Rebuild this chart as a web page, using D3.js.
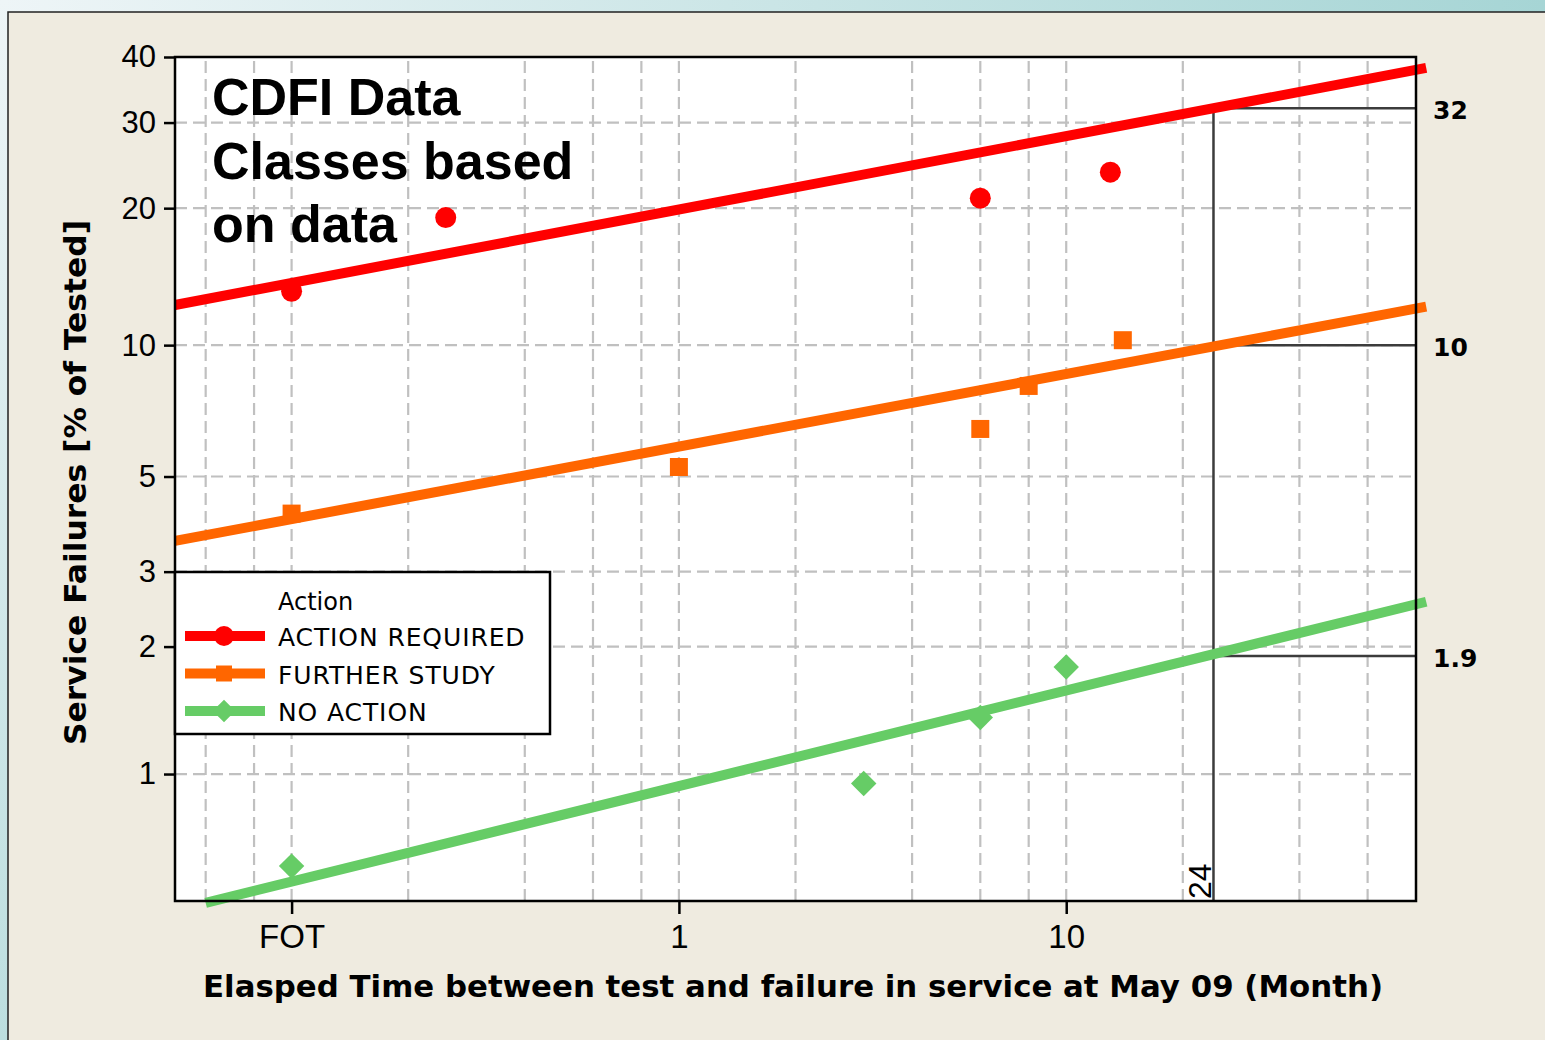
<!DOCTYPE html>
<html>
<head>
<meta charset="utf-8">
<script src="https://cdn.jsdelivr.net/npm/d3@7"></script>
<style>
  body { margin: 0; background: #efebe0; }
  svg { display: block; }
</style>
</head>
<body>
<div id="chart"></div>
<script>
// data
const timeTicks = [0.1, 1, 10];
const timeTickLabels = ["FOT", "1", "10"];
const timeGrid = [0.06, 0.08, 0.1, 0.2, 0.4, 0.6, 0.8, 1, 2, 4, 6, 8, 10, 20, 40, 60];
const pctTicks = [1, 2, 3, 5, 10, 20, 30, 40];
const pctGrid = [1, 2, 3, 5, 10, 20, 30];

const actionT = [0.1, 0.25, 6, 13];
const actionP = [13.2, 19.1, 21.0, 23.8];
const studyT = [0.1, 1, 6, 8, 14];
const studyP = [4.1, 5.26, 6.44, 8.08, 10.26];
const noneT = [0.1, 3, 6, 10];
const noneP = [0.605, 0.95, 1.36, 1.79];

// fitted lines (end points)
const actionFitT = [0.05, 85];
const actionFitP = [12.3, 38.2];
const studyFitT = [0.05, 85];
const studyFitP = [3.54, 12.2];
const noneFitT = [0.06, 85];
const noneFitP = [0.495, 2.55];

// reading at 24 months
const refT = 24;
const refP = [32, 10, 1.9];
const refLabels = ["32", "10", "1.9"];

const legendNames = ["ACTION REQUIRED", "FURTHER STUDY", "NO ACTION"];
const colors = ["#ff0000", "#ff6600", "#66cc66"];

const W = 1545, H = 1040;
const pLeft = 175, pRight = 1416, pTop = 57, pBottom = 901;

// weibull probability scale
const wb = p => Math.log(-Math.log(1 - p / 100));
const x = d3.scaleLog().domain([0.05, 80]).range([pLeft, pRight]);
const y = d3.scaleLinear().domain([wb(0.5), wb(40)]).range([pBottom, pTop]);
const yp = p => y(wb(p));

const svg = d3.select("#chart").append("svg")
    .attr("width", W)
    .attr("height", H);

// frame
const defs = svg.append("defs");
const gTop = defs.append("linearGradient").attr("id", "gtop");
gTop.append("stop").attr("offset", "0%").attr("stop-color", "#eef5f7");
gTop.append("stop").attr("offset", "100%").attr("stop-color", "#a6d5d5");
const gLeft = defs.append("linearGradient").attr("id", "gleft")
    .attr("x1", 0).attr("y1", 0).attr("x2", 0).attr("y2", 1);
gLeft.append("stop").attr("offset", "0%").attr("stop-color", "#eef5f7");
gLeft.append("stop").attr("offset", "100%").attr("stop-color", "#bcdedf");

svg.append("rect").attr("width", W).attr("height", H).attr("fill", "#efebe0");
svg.append("rect").attr("width", W).attr("height", 12).attr("fill", "url(#gtop)");
svg.append("rect").attr("width", 8).attr("height", H).attr("fill", "url(#gleft)");
svg.append("path")
    .attr("d", `M${W},12 H8 V${H}`)
    .attr("fill", "none")
    .attr("stroke", "#222")
    .attr("stroke-width", 1.5);

// plot background
svg.append("rect")
    .attr("x", pLeft).attr("y", pTop)
    .attr("width", pRight - pLeft).attr("height", pBottom - pTop)
    .attr("fill", "#fff");

// grid
const grid = svg.append("g")
    .attr("stroke", "#c0c0c0")
    .attr("stroke-width", 2.2)
    .attr("stroke-dasharray", "12,6");
grid.selectAll(".gx").data(timeGrid).join("line")
    .attr("class", "gx")
    .attr("x1", d => x(d)).attr("x2", d => x(d))
    .attr("y1", pBottom).attr("y2", pTop);
grid.selectAll(".gy").data(pctGrid).join("line")
    .attr("class", "gy")
    .attr("x1", pLeft).attr("x2", pRight)
    .attr("y1", d => yp(d)).attr("y2", d => yp(d));

// title text inside plot
const title = ["CDFI Data", "Classes based", "on data"];
svg.append("g").selectAll("text").data(title).join("text")
    .attr("x", 212)
    .attr("y", (d, i) => 115 + i * 63.5)
    .attr("font-family", "Liberation Sans, Arial, sans-serif")
    .attr("font-weight", "bold")
    .attr("font-size", 52)
    .attr("fill", "#000")
    .text(d => d);

// reference lines at 24 months
const ref = svg.append("g").attr("stroke", "#3c3c3c").attr("stroke-width", 2.5);
ref.append("line")
    .attr("x1", x(refT)).attr("x2", x(refT))
    .attr("y1", pBottom).attr("y2", yp(refP[0]));
ref.selectAll(".rh").data(refP).join("line")
    .attr("class", "rh")
    .attr("x1", x(refT)).attr("x2", pRight)
    .attr("y1", d => yp(d)).attr("y2", d => yp(d));

svg.append("text")
    .attr("transform", `translate(${x(refT) - 2},${pBottom - 2}) rotate(-90)`)
    .attr("font-family", "Liberation Sans, Arial, sans-serif")
    .attr("font-size", 32)
    .attr("fill", "#000")
    .text(refT);

svg.append("g").selectAll("text").data(refP).join("text")
    .attr("x", 1433)
    .attr("y", d => yp(d) + 11)
    .attr("font-family", "DejaVu Sans, Verdana, sans-serif")
    .attr("font-weight", "bold")
    .attr("font-size", 25)
    .attr("fill", "#000")
    .text((d, i) => refLabels[i]);

// fit lines
const line = d3.line().x(d => x(d[0])).y(d => yp(d[1]));
const fits = [
  d3.zip(actionFitT, actionFitP),
  d3.zip(studyFitT, studyFitP),
  d3.zip(noneFitT, noneFitP)
];
svg.append("g").selectAll("path").data(fits).join("path")
    .attr("d", line)
    .attr("fill", "none")
    .attr("stroke", (d, i) => colors[i])
    .attr("stroke-width", 10);

// markers
const circle = d3.symbol().type(d3.symbolCircle).size(Math.PI * 10.5 * 10.5);
const square = d3.symbol().type(d3.symbolSquare).size(18 * 18);
const diamond = d3.symbol().type(d3.symbolSquare).size(18 * 18);

svg.append("g").selectAll("path").data(d3.zip(actionT, actionP)).join("path")
    .attr("transform", d => `translate(${x(d[0])},${yp(d[1])})`)
    .attr("d", circle)
    .attr("fill", colors[0]);
svg.append("g").selectAll("path").data(d3.zip(studyT, studyP)).join("path")
    .attr("transform", d => `translate(${x(d[0])},${yp(d[1])})`)
    .attr("d", square)
    .attr("fill", colors[1]);
svg.append("g").selectAll("path").data(d3.zip(noneT, noneP)).join("path")
    .attr("transform", d => `translate(${x(d[0])},${yp(d[1])}) rotate(45)`)
    .attr("d", diamond)
    .attr("fill", colors[2]);

// plot border
svg.append("rect")
    .attr("x", pLeft).attr("y", pTop)
    .attr("width", pRight - pLeft).attr("height", pBottom - pTop)
    .attr("fill", "none")
    .attr("stroke", "#000")
    .attr("stroke-width", 2.5);

// axes
const xAxis = svg.append("g")
    .attr("transform", `translate(0,${pBottom})`)
    .call(d3.axisBottom(x).tickValues(timeTicks)
        .tickFormat((d, i) => timeTickLabels[i]).tickSize(13).tickPadding(11));
xAxis.select(".domain").remove();
xAxis.selectAll(".tick line").attr("stroke", "#000").attr("stroke-width", 2.5);
xAxis.selectAll(".tick text")
    .attr("font-family", "Liberation Sans, Arial, sans-serif")
    .attr("font-size", 33)
    .attr("fill", "#000");

const yAxis = svg.append("g")
    .attr("transform", `translate(${pLeft},0)`)
    .call(d3.axisLeft(y).tickValues(pctTicks.map(wb))
        .tickFormat((d, i) => pctTicks[i]).tickSize(11).tickPadding(8));
yAxis.select(".domain").remove();
yAxis.selectAll(".tick line").attr("stroke", "#000").attr("stroke-width", 2.5);
yAxis.selectAll(".tick text")
    .attr("font-family", "Liberation Sans, Arial, sans-serif")
    .attr("font-size", 31)
    .attr("fill", "#000");

// axis titles
svg.append("text")
    .attr("x", 203).attr("y", 997)
    .attr("textLength", 1180)
    .attr("lengthAdjust", "spacingAndGlyphs")
    .attr("font-family", "DejaVu Sans, Verdana, sans-serif")
    .attr("font-weight", "bold")
    .attr("font-size", 30)
    .attr("fill", "#000")
    .text("Elasped Time between test and failure in service at May 09 (Month)");

svg.append("text")
    .attr("transform", "translate(86,745) rotate(-90)")
    .attr("textLength", 525)
    .attr("lengthAdjust", "spacingAndGlyphs")
    .attr("font-family", "DejaVu Sans, Verdana, sans-serif")
    .attr("font-weight", "bold")
    .attr("font-size", 30)
    .attr("fill", "#000")
    .text("Service Failures [% of Tested]");

// legend
const lg = svg.append("g").attr("transform", "translate(175,572)");
lg.append("rect")
    .attr("width", 375).attr("height", 162)
    .attr("fill", "#fff")
    .attr("stroke", "#000")
    .attr("stroke-width", 2.5);
lg.append("text")
    .attr("x", 103).attr("y", 38)
    .attr("font-family", "DejaVu Sans, Verdana, sans-serif")
    .attr("font-size", 24)
    .attr("fill", "#000")
    .text("Action");
const legendSyms = [
  d3.symbol().type(d3.symbolCircle).size(Math.PI * 10 * 10),
  d3.symbol().type(d3.symbolSquare).size(16 * 16),
  d3.symbol().type(d3.symbolSquare).size(16 * 16)
];
const items = lg.selectAll(".item").data(legendNames).join("g")
    .attr("class", "item")
    .attr("transform", (d, i) => `translate(0,${64 + i * 37.5})`);
items.append("line")
    .attr("x1", 10).attr("x2", 90)
    .attr("stroke", (d, i) => colors[i])
    .attr("stroke-width", 10);
items.append("path")
    .attr("transform", (d, i) => `translate(49,0)${i === 2 ? " rotate(45)" : ""}`)
    .attr("d", (d, i) => legendSyms[i]())
    .attr("fill", (d, i) => colors[i]);
items.append("text")
    .attr("x", 103).attr("y", 10)
    .attr("font-family", "DejaVu Sans, Verdana, sans-serif")
    .attr("font-size", 25)
    .attr("letter-spacing", 0.9)
    .attr("fill", "#000")
    .text(d => d);
</script>
</body>
</html>
